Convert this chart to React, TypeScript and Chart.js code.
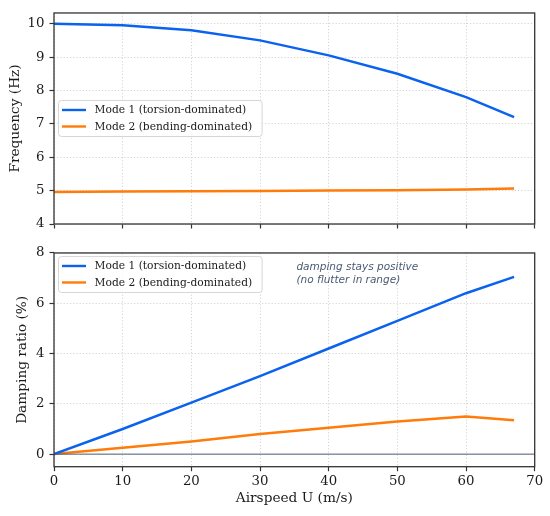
import React, { useEffect, useRef } from 'react';
import { Chart, registerables } from 'chart.js';

Chart.register(...registerables);

const airspeed = [0, 10, 20, 30, 40, 50, 60, 67];
const freqMode1 = [10.0, 9.95, 9.8, 9.5, 9.05, 8.5, 7.8, 7.2];
const freqMode2 = [4.96, 4.97, 4.98, 4.99, 5.0, 5.01, 5.03, 5.06];
const dampMode1 = [0, 1.0, 2.05, 3.1, 4.2, 5.3, 6.4, 7.05];
const dampMode2 = [0, 0.25, 0.5, 0.8, 1.05, 1.3, 1.5, 1.35];
const seriesLabels = ['Mode 1 (torsion-dominated)', 'Mode 2 (bending-dominated)'];
const xTicks = [0, 10, 20, 30, 40, 50, 60, 70];
const freqTicks = [4, 5, 6, 7, 8, 9, 10];
const dampTicks = [0, 2, 4, 6, 8];
const zeroLineX = [0, 70];
const zeroLineY = [0, 0];
const annotationLines = ['damping stays positive', '(no flutter in range)'];

const BLUE = '#0a62ee';
const ORANGE = '#ff7b0a';
const TEXT = '#1a1a1a';
const GRID = '#cfcfcf';
const AXIS = '#333333';
const SERIF = "'DejaVu Serif', serif";

const pts = (xs: number[], ys: number[]) => xs.map((x, i) => ({ x, y: ys[i] }));

const framePlugin = {
  id: 'frame',
  afterDatasetsDraw(chart: any) {
    const { ctx, chartArea: a } = chart;
    ctx.save();
    ctx.strokeStyle = AXIS;
    ctx.lineWidth = 1.3;
    ctx.strokeRect(a.left, a.top, a.right - a.left, a.bottom - a.top);
    ctx.restore();
  },
};

const legendPlugin = {
  id: 'boxLegend',
  afterDraw(chart: any) {
    const opts = chart.options.plugins.boxLegend;
    if (!opts) return;
    const { ctx, chartArea: a } = chart;
    const sets = chart.data.datasets.filter((d: any) => d.label);
    ctx.save();
    ctx.font = `10.7px ${SERIF}`;
    const maxW = Math.max(...sets.map((d: any) => ctx.measureText(d.label).width));
    const w = 36 + maxW + 10;
    const h = 36;
    const left = a.left + 4.5;
    const top = opts.mode === 'center' ? (a.top + a.bottom) / 2 - h / 2 : a.top + 3.5;
    ctx.beginPath();
    (ctx as any).roundRect(left, top, w, h, 3);
    ctx.fillStyle = 'rgba(255,255,255,0.85)';
    ctx.fill();
    ctx.strokeStyle = '#d6d6d6';
    ctx.lineWidth = 1;
    ctx.stroke();
    sets.forEach((d: any, i: number) => {
      const y = top + 9.5 + i * 16.5;
      ctx.beginPath();
      ctx.strokeStyle = d.borderColor;
      ctx.lineWidth = 2.4;
      ctx.moveTo(left + 3.5, y);
      ctx.lineTo(left + 27.5, y);
      ctx.stroke();
      ctx.fillStyle = TEXT;
      ctx.textBaseline = 'middle';
      ctx.textAlign = 'left';
      ctx.fillText(d.label, left + 36, y + 0.5);
    });
    ctx.restore();
  },
};

const notePlugin = {
  id: 'note',
  afterDraw(chart: any) {
    const opts = chart.options.plugins.note;
    if (!opts) return;
    const { ctx, scales } = chart;
    const x = scales.x.getPixelForValue(opts.x);
    const y = scales.y.getPixelForValue(opts.y);
    ctx.save();
    ctx.font = `italic 10.5px 'DejaVu Sans', sans-serif`;
    ctx.fillStyle = '#4a5b72';
    ctx.textAlign = 'left';
    ctx.textBaseline = 'middle';
    opts.lines.forEach((t: string, i: number) => ctx.fillText(t, x, y + i * 12.8));
    ctx.restore();
  },
};

function makeConfig(kind: 'freq' | 'damp'): any {
  const isFreq = kind === 'freq';
  const datasets: any[] = [
    {
      label: seriesLabels[0],
      data: pts(airspeed, isFreq ? freqMode1 : dampMode1),
      borderColor: BLUE,
      borderWidth: 2.5,
      pointRadius: 0,
      tension: 0,
    },
    {
      label: seriesLabels[1],
      data: pts(airspeed, isFreq ? freqMode2 : dampMode2),
      borderColor: ORANGE,
      borderWidth: 2.5,
      pointRadius: 0,
      tension: 0,
    },
  ];
  if (!isFreq) {
    datasets.unshift({
      label: '',
      data: pts(zeroLineX, zeroLineY),
      borderColor: '#4d5f78',
      borderWidth: 1,
      pointRadius: 0,
    });
  }
  const tickFont = { family: SERIF, size: 13.3 };
  const titleFont = { family: SERIF, size: 13.7 };
  const yTicks = isFreq ? freqTicks : dampTicks;
  const grid = {
    color: GRID,
    lineWidth: 0.9,
    drawTicks: true,
    tickLength: 4.5,
    tickColor: AXIS,
    tickWidth: 1.2,
  };
  const border = { display: false, dash: [1.2, 2] };
  return {
    type: 'line',
    data: { datasets },
    plugins: [framePlugin, legendPlugin, notePlugin],
    options: {
      animation: false,
      responsive: false,
      events: [],
      layout: { padding: { left: 0, right: 15.3, top: isFreq ? 7.3 : 11.7, bottom: 0 } },
      plugins: {
        legend: { display: false },
        tooltip: { enabled: false },
        boxLegend: { mode: isFreq ? 'center' : 'upper' },
        note: isFreq ? null : { x: 35.3, y: 7.42, lines: annotationLines },
      },
      scales: {
        x: {
          type: 'linear',
          min: 0,
          max: 70,
          afterBuildTicks: (s: any) => { s.ticks = xTicks.map((v) => ({ value: v })); },
          afterFit: (s: any) => { s.height = isFreq ? 16 : 49.3; },
          grid,
          border,
          ticks: { display: !isFreq, font: tickFont, color: TEXT, padding: 2.5, maxRotation: 0 },
          title: {
            display: !isFreq,
            text: 'Airspeed U (m/s)',
            font: titleFont,
            color: TEXT,
            padding: { top: 0, bottom: 9.5 },
          },
        },
        y: {
          type: 'linear',
          min: isFreq ? 4 : -0.5,
          max: isFreq ? 10.32 : 8,
          afterBuildTicks: (s: any) => { s.ticks = yTicks.map((v) => ({ value: v })); },
          afterFit: (s: any) => { s.width = 54; },
          grid,
          border,
          ticks: { font: tickFont, color: TEXT, padding: 5 },
          title: {
            display: true,
            text: isFreq ? 'Frequency (Hz)' : 'Damping ratio (%)',
            font: titleFont,
            color: TEXT,
            padding: { top: isFreq ? 6.8 : 14.6, bottom: 0 },
          },
        },
      },
    },
  };
}

function ChartCanvas({ kind, top, height }: { kind: 'freq' | 'damp'; top: number; height: number }) {
  const ref = useRef<HTMLCanvasElement | null>(null);
  useEffect(() => {
    if (!ref.current) return;
    const chart = new Chart(ref.current, makeConfig(kind));
    return () => chart.destroy();
  }, [kind]);
  return (
    <canvas
      ref={ref}
      width={550}
      height={height}
      style={{ position: 'absolute', left: 0, top, width: 550, height }}
    />
  );
}

export default function App() {
  return (
    <div style={{ position: 'absolute', left: 0, top: 0, width: 550, height: 516, background: '#fff' }}>
      <ChartCanvas kind="freq" top={0} height={240} />
      <ChartCanvas kind="damp" top={240} height={276} />
    </div>
  );
}
